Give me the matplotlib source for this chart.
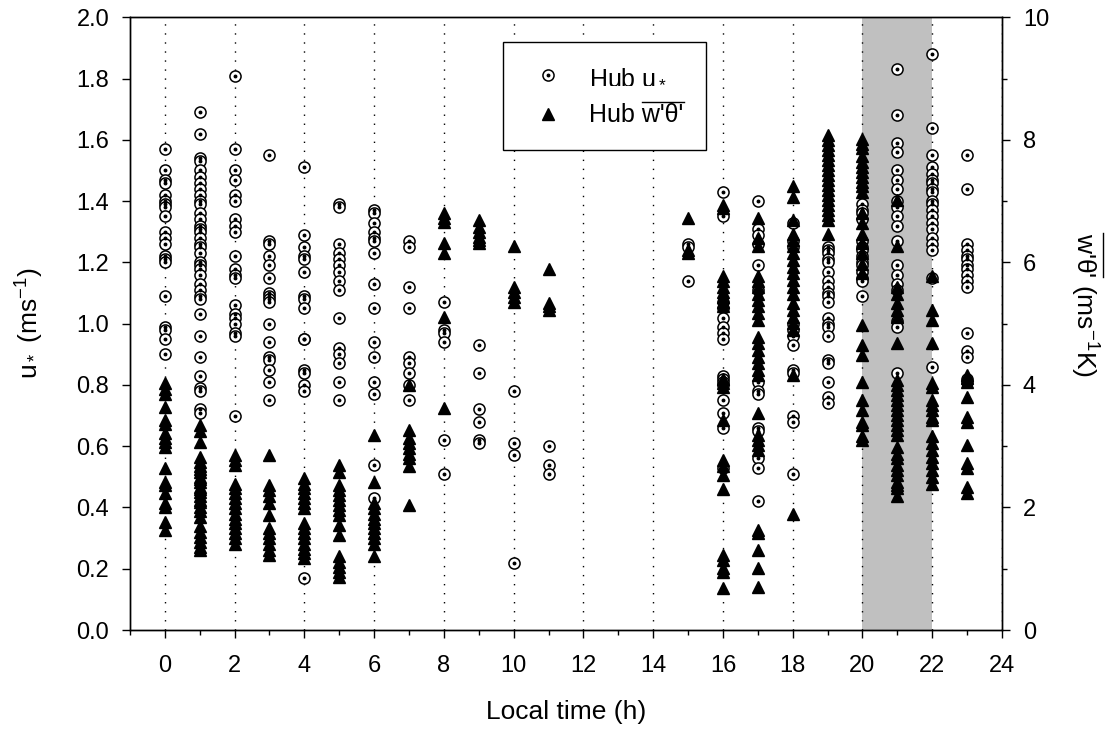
import numpy as np
import matplotlib.pyplot as plt
from matplotlib.lines import Line2D
from matplotlib.ticker import MultipleLocator, FormatStrFormatter

plt.rcParams['font.family'] = ['Liberation Sans', 'DejaVu Sans']
plt.rcParams['mathtext.fontset'] = 'custom'
plt.rcParams['mathtext.rm'] = 'Liberation Sans'
plt.rcParams['mathtext.it'] = 'Liberation Sans:italic'
plt.rcParams['mathtext.default'] = 'regular'

# hub friction velocity u* (m/s), per local hour
ustar = {
    0: [1.57, 1.50, 1.47, 1.46, 1.42, 1.40, 1.39, 1.38, 1.35, 1.30, 1.28, 1.26,
        1.22, 1.21, 1.20, 1.09, 0.99, 0.98, 0.95, 0.90],
    1: [1.69, 1.62, 1.54, 1.53, 1.50, 1.48, 1.46, 1.44, 1.42, 1.40, 1.39, 1.36,
        1.34, 1.32, 1.31, 1.30, 1.28, 1.26, 1.25, 1.23, 1.20, 1.19, 1.18, 1.16,
        1.13, 1.11, 1.09, 1.08, 1.03, 0.96, 0.89, 0.83, 0.79, 0.78, 0.72, 0.71],
    2: [1.81, 1.57, 1.50, 1.47, 1.42, 1.40, 1.34, 1.32, 1.30, 1.22, 1.18, 1.16,
        1.15, 1.06, 1.03, 1.02, 1.00, 0.97, 0.96, 0.70],
    3: [1.55, 1.27, 1.26, 1.22, 1.19, 1.15, 1.10, 1.09, 1.08, 1.07, 1.00, 0.94,
        0.89, 0.88, 0.85, 0.81, 0.75],
    4: [1.51, 1.29, 1.25, 1.22, 1.21, 1.17, 1.09, 1.08, 1.05, 0.95, 0.95, 0.85,
        0.84, 0.80, 0.78, 0.17],
    5: [1.39, 1.38, 1.26, 1.23, 1.21, 1.19, 1.17, 1.14, 1.11, 1.02, 0.92, 0.90,
        0.87, 0.81, 0.75],
    6: [1.37, 1.36, 1.33, 1.30, 1.28, 1.27, 1.23, 1.13, 1.05, 0.94, 0.89, 0.81,
        0.77, 0.54, 0.43],
    7: [1.27, 1.25, 1.12, 1.05, 0.89, 0.87, 0.84, 0.80, 0.75],
    8: [1.07, 0.98, 0.97, 0.94, 0.62, 0.51],
    9: [0.93, 0.84, 0.72, 0.68, 0.62, 0.61],
    10: [0.78, 0.61, 0.57, 0.22],
    11: [0.60, 0.54, 0.51],
    15: [1.26, 1.25, 1.14],
    16: [1.43, 1.35, 1.07, 1.05, 1.02, 0.99, 0.97, 0.95, 0.83, 0.82, 0.81, 0.80,
         0.75, 0.71, 0.66, 0.53],
    17: [1.40, 1.31, 1.29, 1.26, 1.19, 1.11, 0.81, 0.78, 0.77, 0.66, 0.65, 0.56,
         0.53, 0.42],
    18: [1.33, 1.27, 1.25, 1.00, 0.98, 0.96, 0.93, 0.85, 0.84, 0.70, 0.68, 0.51],
    19: [1.25, 1.24, 1.23, 1.21, 1.20, 1.17, 1.14, 1.12, 1.10, 1.09, 1.07, 1.02,
         1.00, 0.99, 0.96, 0.88, 0.87, 0.81, 0.76, 0.74],
    20: [1.39, 1.37, 1.36, 1.34, 1.27, 1.25, 1.24, 1.22, 1.20, 1.19, 1.17, 1.15,
         1.14, 1.09],
    21: [1.83, 1.68, 1.59, 1.56, 1.50, 1.47, 1.44, 1.40, 1.38, 1.35, 1.32, 1.27,
         1.19, 1.16, 1.13, 1.11, 1.01, 0.99, 0.84],
    22: [1.88, 1.64, 1.55, 1.51, 1.49, 1.47, 1.46, 1.44, 1.43, 1.40, 1.39, 1.37,
         1.35, 1.33, 1.31, 1.28, 1.26, 1.24, 1.15, 0.86],
    23: [1.55, 1.44, 1.26, 1.24, 1.22, 1.21, 1.19, 1.18, 1.16, 1.14, 1.12, 0.97,
         0.91, 0.89, 0.82, 0.81],
}

# hub heat flux w'theta' (right axis), per local hour
wtheta = {
    0: [4.03, 3.94, 3.86, 3.64, 3.43, 3.37, 3.21, 3.13, 3.07, 2.99, 2.64, 2.42,
        2.37, 2.23, 2.07, 2.01, 1.77, 1.63],
    1: [3.35, 3.24, 3.07, 2.83, 2.75, 2.67, 2.62, 2.58, 2.50, 2.46, 2.42, 2.34,
        2.30, 2.26, 2.18, 2.13, 2.09, 2.01, 1.95, 1.85, 1.69, 1.60, 1.52, 1.44,
        1.36, 1.31],
    2: [2.86, 2.77, 2.69, 2.39, 2.31, 2.23, 2.15, 2.07, 1.99, 1.90, 1.82, 1.74,
        1.66, 1.58, 1.50, 1.41],
    3: [2.86, 2.37, 2.28, 2.18, 2.07, 1.88, 1.66, 1.58, 1.50, 1.41, 1.31, 1.22],
    4: [2.48, 2.39, 2.31, 2.23, 2.15, 2.07, 1.99, 1.74, 1.66, 1.58, 1.50, 1.41,
        1.33, 1.25, 1.17],
    5: [2.69, 2.58, 2.37, 2.28, 2.20, 2.12, 2.04, 1.96, 1.88, 1.71, 1.55, 1.20,
        1.11, 1.03, 0.95, 0.87],
    6: [3.18, 2.41, 2.07, 1.99, 1.90, 1.82, 1.74, 1.66, 1.58, 1.50, 1.41, 1.20],
    7: [4.00, 3.26, 3.13, 3.05, 2.97, 2.88, 2.80, 2.67, 2.04],
    8: [6.80, 6.72, 6.66, 6.31, 6.16, 5.11, 3.62],
    9: [6.69, 6.58, 6.50, 6.42, 6.37, 6.31],
    10: [6.26, 5.60, 5.51, 5.43, 5.36],
    11: [5.89, 5.33, 5.28, 5.22],
    15: [6.72, 6.20, 6.15],
    16: [6.94, 6.88, 5.77, 5.69, 5.60, 5.52, 5.44, 5.36, 5.28, 4.09, 4.03, 3.97,
         3.42, 2.77, 2.67, 2.53, 2.30, 1.22, 1.14, 1.01, 0.95, 0.68],
    17: [6.72, 6.39, 6.26, 5.77, 5.69, 5.60, 5.49, 5.39, 5.28, 5.17, 5.06, 4.79,
         4.68, 4.57, 4.46, 4.35, 4.25, 4.16, 3.55, 3.18, 3.10, 3.02, 2.94, 1.63,
         1.58, 1.31, 1.01, 0.70],
    18: [7.24, 7.07, 6.69, 6.47, 6.37, 6.26, 6.15, 6.04, 5.93, 5.82, 5.71, 5.60,
         5.49, 5.33, 5.22, 5.11, 5.01, 4.90, 4.16, 1.90],
    19: [8.08, 8.00, 7.92, 7.83, 7.75, 7.67, 7.59, 7.51, 7.43, 7.34, 7.26, 7.18,
         7.10, 7.02, 6.94, 6.85, 6.77, 6.69, 6.47],
    20: [8.02, 7.94, 7.86, 7.73, 7.64, 7.56, 7.48, 7.40, 7.32, 7.24, 7.15, 6.80,
         6.64, 6.47, 6.31, 6.15, 5.98, 5.82, 4.98, 4.65, 4.49, 4.04, 3.75, 3.59,
         3.40, 3.35, 3.16, 3.10],
    21: [7.02, 6.26, 5.60, 5.49, 5.33, 5.22, 5.11, 4.68, 4.08, 4.00, 3.92, 3.84,
         3.75, 3.67, 3.59, 3.51, 3.43, 3.35, 3.26, 3.18, 2.99, 2.88, 2.80, 2.69,
         2.61, 2.53, 2.42, 2.37, 2.31, 2.18],
    22: [5.77, 5.22, 5.06, 4.68, 4.03, 3.97, 3.75, 3.67, 3.59, 3.48, 3.43, 3.16,
         3.05, 2.94, 2.83, 2.72, 2.61, 2.50, 2.39],
    23: [4.16, 4.11, 4.05, 3.81, 3.48, 3.40, 3.02, 2.72, 2.64, 2.34, 2.23],
}

shade_hours = (20, 22)
grid_hours = np.arange(0, 25, 2)

u_x = np.concatenate([[h] * len(v) for h, v in ustar.items()])
u_y = np.concatenate(list(ustar.values()))
w_x = np.concatenate([[h] * len(v) for h, v in wtheta.items()])
w_y = np.concatenate(list(wtheta.values()))

fig = plt.figure(figsize=(11.09, 7.36), dpi=100)
ax = fig.add_axes([0.1172, 0.144, 0.7863, 0.8325])
ax2 = ax.twinx()

ax.axvspan(*shade_hours, color='#c0c0c0', lw=0, zorder=0.5)
for h in grid_hours:
    ax.axvline(h, color='k', ls=(0, (1, 5.5)), lw=1, zorder=1)

circ_kw = dict(ls='none', marker='o', ms=8, mfc='white', mec='k', mew=1.1)
dot_kw = dict(ls='none', marker='o', ms=1.8, color='k')
tri_kw = dict(ls='none', marker='^', ms=9, color='k')

ax.plot(u_x, u_y, zorder=3, **circ_kw)
ax.plot(u_x, u_y, zorder=3.1, **dot_kw)
ax2.plot(w_x, w_y, zorder=3, **tri_kw)

ax.set_xlim(-1, 24)
ax.set_ylim(0, 2)
ax2.set_ylim(0, 10)
ax.xaxis.set_major_locator(MultipleLocator(2))
ax.xaxis.set_minor_locator(MultipleLocator(1))
ax.yaxis.set_major_locator(MultipleLocator(0.2))
ax.yaxis.set_major_formatter(FormatStrFormatter('%.1f'))
ax2.yaxis.set_major_locator(MultipleLocator(2))
ax2.yaxis.set_minor_locator(MultipleLocator(1))

for a in (ax, ax2):
    a.tick_params(which='major', direction='out', length=6, width=1, labelsize=17, pad=9)
    a.tick_params(which='minor', direction='out', length=3.5, width=1)
    for s in a.spines.values():
        s.set_linewidth(1)
ax.tick_params(axis='x', pad=12)

ax.set_xlabel('Local time (h)', fontsize=19)
ax.xaxis.set_label_coords(0.5, -0.115)
ax.set_ylabel('u$_*$ (ms$^{-1}$)', fontsize=19)
ax.yaxis.set_label_coords(-0.096, 0.5)
ax2.set_ylabel("w'θ' (ms$^{-1}$K)", fontsize=19, rotation=270, va='bottom')
ax2.yaxis.set_label_coords(1.076, 0.53)

h_u = (Line2D([], [], **circ_kw), Line2D([], [], **dot_kw))
h_w = Line2D([], [], **tri_kw)
leg = ax2.legend([h_u, h_w], ['Hub u$_*$', "Hub w'θ'"], loc='upper left',
                 bbox_to_anchor=(0.428, 0.960), fontsize=18, fancybox=False,
                 edgecolor='k', framealpha=1, borderpad=0.9, labelspacing=0.6,
                 handlelength=1.8, handletextpad=0.75, borderaxespad=0)
leg.get_frame().set_linewidth(1)

# overlines over w'theta'
fig.canvas.draw()
r = fig.canvas.get_renderer()
inv = fig.transFigure.inverted()


def bar_width(t):
    tmp = fig.text(0, 0, "w'θ'", fontproperties=t.get_fontproperties())
    w = tmp.get_window_extent(r).width
    tmp.remove()
    return w


t = leg.get_texts()[1]
bb = t.get_window_extent(r)
w = bar_width(t)
p = inv.transform([(bb.x1 - w, bb.y1 + 1), (bb.x1, bb.y1 + 1)])
fig.add_artist(Line2D(p[:, 0], p[:, 1], transform=fig.transFigure, color='k', lw=1))

lab = ax2.yaxis.label
bb = lab.get_window_extent(r)
w = bar_width(lab)
p = inv.transform([(bb.x1 + 3, bb.y1), (bb.x1 + 3, bb.y1 - w)])
fig.add_artist(Line2D(p[:, 0], p[:, 1], transform=fig.transFigure, color='k', lw=1))

fig.savefig('out.png', dpi=100)
